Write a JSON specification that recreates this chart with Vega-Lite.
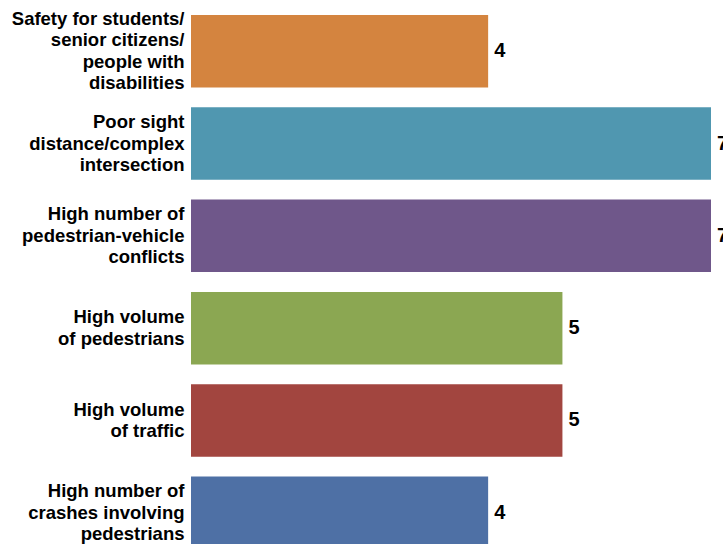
{
  "$schema": "https://vega.github.io/schema/vega-lite/v6.json",
  "autosize": "none",
  "padding": {"top": 15, "left": 191, "right": 12, "bottom": 0},
  "width": 520,
  "height": 534,
  "background": "white",
  "config": {"view": {"stroke": null}, "font": "Liberation Sans"},
  "data": {
    "values": [
      {"reason": "Safety for students/|senior citizens/|people with|disabilities", "count": 4, "order": 1},
      {"reason": "Poor sight|distance/complex|intersection", "count": 7, "order": 2},
      {"reason": "High number of|pedestrian-vehicle|conflicts", "count": 7, "order": 3},
      {"reason": "High volume|of pedestrians", "count": 5, "order": 4},
      {"reason": "High volume|of traffic", "count": 5, "order": 5},
      {"reason": "High number of|crashes involving|pedestrians", "count": 4, "order": 6}
    ]
  },
  "encoding": {
    "y": {
      "field": "reason",
      "type": "nominal",
      "sort": {"field": "order", "order": "ascending"},
      "scale": {"paddingInner": 0.215, "paddingOuter": 0},
      "axis": {
        "title": null,
        "domain": false,
        "ticks": false,
        "labelExpr": "split(datum.label, '|')",
        "labelFont": "Liberation Sans",
        "labelFontWeight": "bold",
        "labelFontSize": 18.5,
        "labelLineHeight": 21.5,
        "labelColor": "#000000",
        "labelPadding": 7,
        "labelLimit": 300,
        "labelOffset": {
          "condition": [
            {"test": "length(split(datum.value, '|')) == 4", "value": -32.25},
            {"test": "length(split(datum.value, '|')) == 3", "value": -21.5}
          ],
          "value": -10.75
        }
      }
    },
    "x": {
      "field": "count",
      "type": "quantitative",
      "scale": {"domain": [0, 7], "nice": false},
      "axis": null
    }
  },
  "layer": [
    {
      "mark": {"type": "bar"},
      "encoding": {
        "color": {
          "field": "reason",
          "type": "nominal",
          "scale": {
            "domain": [
              "Safety for students/|senior citizens/|people with|disabilities",
              "Poor sight|distance/complex|intersection",
              "High number of|pedestrian-vehicle|conflicts",
              "High volume|of pedestrians",
              "High volume|of traffic",
              "High number of|crashes involving|pedestrians"
            ],
            "range": ["#D4843F", "#5097B0", "#6F578A", "#8BA752", "#A2453F", "#4E70A5"]
          },
          "legend": null
        }
      }
    },
    {
      "mark": {"type": "text", "align": "left", "baseline": "middle", "dx": 6, "font": "Liberation Sans", "fontWeight": "bold", "fontSize": 20, "color": "#000000"},
      "encoding": {"text": {"field": "count", "type": "quantitative"}}
    }
  ]
}
